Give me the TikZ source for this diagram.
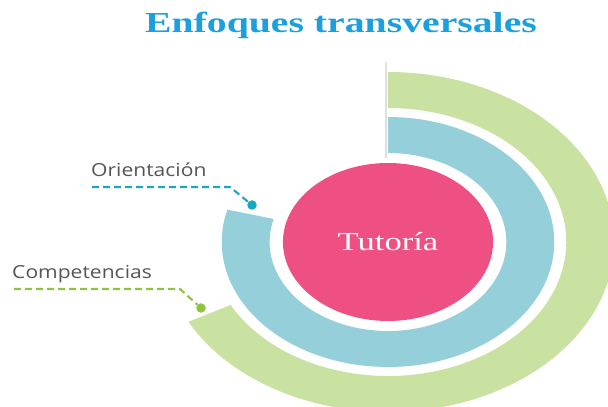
\documentclass[tikz,border=0pt]{standalone}
\usepackage{fontspec}
\setmainfont{Liberation Serif}
\newfontfamily\labfont{Open Sans}
\usetikzlibrary{arrows}
\definecolor{tpink}{RGB}{238,80,131}
\definecolor{ringblue}{RGB}{148,207,218}
\definecolor{ringgreen}{RGB}{201,226,162}
\definecolor{titleblue}{RGB}{28,160,221}
\definecolor{oricol}{RGB}{22,168,192}
\definecolor{compcol}{RGB}{141,196,64}
\definecolor{labgray}{RGB}{85,85,85}
\tikzstyle{leader}=[line width=2.1pt, dash pattern=on 7pt off 4pt]
\tikzstyle{dot}=[circle, inner sep=0pt, minimum size=9.5pt]
\tikzstyle{lab}=[font=\labfont\fontsize{18}{20}\selectfont, text=labgray, anchor=base west, inner sep=0pt, xscale=1.17]

\begin{document}
\begin{tikzpicture}[x=1pt,y=1pt]
  \useasboundingbox (0,0) rectangle (608,407);
  \node (titulo) [font=\bfseries\fontsize{29}{32}\selectfont, text=titleblue, anchor=base, xscale=1.37] at (341,374) {Enfoques transversales};

  \begin{scope}[shift={(388,165)},xscale=1.33]
    \fill[ringgreen] (90:170pt) arc[start angle=90, end angle=-152, radius=170pt]
      -- (-152:134pt) arc[start angle=-152, end angle=90, radius=134pt] -- cycle;
    \fill[ringblue] (90:125pt) arc[start angle=90, end angle=-195, radius=125pt]
      -- (-195:89pt) arc[start angle=-195, end angle=90, radius=89pt] -- cycle;
  \end{scope}
  \draw[line width=2.5pt, black!12] (386,345) -- (386,249);

  \node (tutoria) [circle, fill=tpink, minimum size=158pt, inner sep=0pt, xscale=1.33, text=white, font=\fontsize{26}{28}\selectfont] at (388,165) {Tutoría};

  \node (orilab) [lab] at (91,230) {Orientación};
  \node (complab) [lab] at (12,128) {Competencias};
  \node (oridot) [dot, fill=oricol] at (252,202) {};
  \node (compdot) [dot, fill=compcol] at (201,99) {};
  \coordinate (oristart) at (92,220);
  \coordinate (oribend) at (230,220);
  \coordinate (compstart) at (14,118);
  \coordinate (compbend) at (180,118);

  \draw[leader, oricol] (oristart) -- (oribend) -- (oridot);
  \draw[leader, compcol] (compstart) -- (compbend) -- (compdot);
  %\draw[red] (388,165) circle (2pt);
\end{tikzpicture}
\end{document}
